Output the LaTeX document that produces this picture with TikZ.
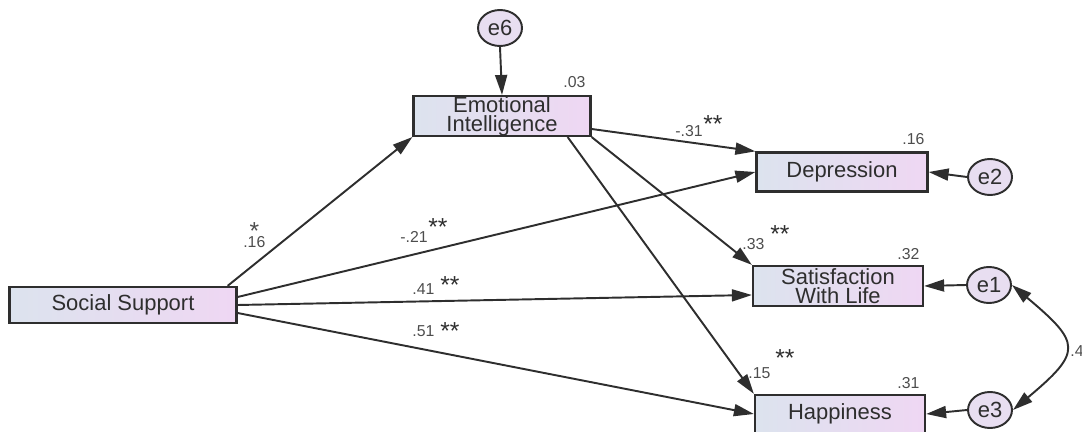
\documentclass[tikz,border=0pt]{standalone}
\usepackage{fontspec}
\setmainfont{Liberation Sans}
\usetikzlibrary{arrows.meta}
\usetikzlibrary{shapes.geometric}
\usepackage{xcolor}
\definecolor{boxleft}{HTML}{DCE3EE}
\definecolor{boxright}{HTML}{EFD7F3}
\definecolor{errfill}{HTML}{E8DEF1}
\definecolor{ink}{HTML}{2E2E2E}
\newcommand{\sigfont}{\fontsize{14}{14}\selectfont}
\tikzset{
  obs/.style={draw=ink,line width=1.3pt,left color=boxleft,right color=boxright,text=ink,
    align=center,inner sep=0pt,font=\fontsize{12.5}{11}\selectfont},
  err/.style={ellipse,draw=ink,line width=1.1pt,fill=errfill,minimum width=0.88cm,
    minimum height=0.72cm,inner sep=0pt,text=ink,font=\fontsize{12.5}{14}\selectfont},
  arr/.style={ink,line width=1.1pt,-{Triangle[length=4mm,width=2.4mm]}},
  dbl/.style={ink,line width=1.1pt,{Triangle[length=4mm,width=2.4mm]}-{Triangle[length=4mm,width=2.4mm]}},
  coef/.style={text=ink!85,font=\fontsize{9}{10}\selectfont,inner sep=0pt,anchor=base west},
  sig/.style={text=ink,font=\sigfont,inner sep=0pt,anchor=base west}
}

\begin{document}
\begin{tikzpicture}[x=0.02cm,y=-0.02cm]
\useasboundingbox (0,0) rectangle (1082,432);
\node[obs,minimum width=4.54cm,minimum height=0.72cm] (ss) at (123,305) {Social Support};
\node[obs,minimum width=3.54cm,minimum height=0.76cm] (ei) at (502,116) {Emotional\\Intelligence};
\node[obs,minimum width=3.42cm,minimum height=0.78cm] (dep) at (842,172) {Depression};
\node[obs,minimum width=3.40cm,minimum height=0.80cm] (swl) at (838,286) {Satisfaction\\With Life};
\node[obs,minimum width=3.40cm,minimum height=0.76cm] (hap) at (840,414) {Happiness};
\node[err] (e6) at (500,28) {e6};
\node[err] (e2) at (990,177) {e2};
\node[err] (e1) at (989,285) {e1};
\node[err] (e3) at (990,410) {e3};
% squared multiple correlations
\node[coef] (r6) at (563,88) {.03};
\node[coef] (r2) at (902,145) {.16};
\node[coef] (r1) at (897,260) {.32};
\node[coef] (r3) at (897,388) {.31};
% paths
\draw[arr] (e6.south) -- (ei.north);
\draw[arr] (e2.west) -- (dep.east);
\draw[arr] (e1.west) -- (swl.east);
\draw[arr] (e3.west) -- (hap.east);
\draw[arr] ([xshift=-0.2cm]ss.north east) -- (ei.south west);
\draw[arr] ([yshift=0.16cm]ss.east) -- (dep.west);
\draw[arr] (ss.east) -- ([yshift=-0.18cm]swl.west);
\draw[arr] ([yshift=-0.16cm]ss.east) -- (hap.west);
\draw[arr] ([yshift=-0.26cm]ei.east) -- (dep.north west);
\draw[arr] (ei.south east) -- (swl.north west);
\draw[arr] ([xshift=-0.48cm]ei.south east) -- (hap.north west);
\draw[dbl] (e1.east) to[out=-40,in=40,looseness=1.85] (e3.east);
% estimates
\node[coef] (b1) at (243,248) {.16\llap{\raisebox{5pt}{\sigfont*}\kern3.5pt}};
\node[coef] (b2) at (400,243) {-.21};
\node[sig] (s2) at (428,236) {**};
\node[coef] (b3) at (412,295) {.41};
\node[sig] (s3) at (440,294) {**};
\node[coef] (b4) at (412,337) {.51};
\node[sig] (s4) at (440,339) {**};
\node[coef] (b5) at (675,137) {-.31};
\node[sig] (s5) at (703,133) {**};
\node[coef] (b6) at (742,250) {.33};
\node[sig] (s6) at (770,243) {**};
\node[coef] (b7) at (748,378) {.15};
\node[sig] (s7) at (775,366) {**};
\node[coef] (r13) at (1070,357) {.4};
\end{tikzpicture}
\end{document}
